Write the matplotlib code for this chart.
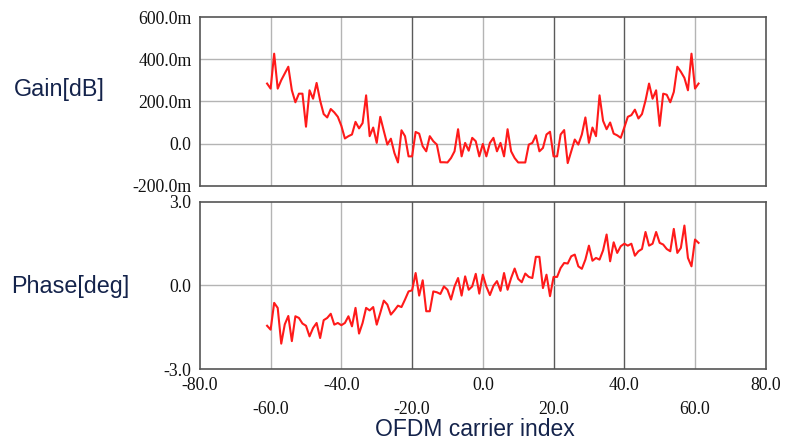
import numpy as np
import matplotlib
matplotlib.use("Agg")
import matplotlib.pyplot as plt

# OFDM carrier index, -61 .. 61
carriers = np.arange(-61, 62)

# gain per carrier, in milli-dB
gain_mdb = [
    285, 261, 427, 261, 301, 333, 365, 253, 196, 237,
    237, 80, 253, 213, 288, 204, 140, 124, 164, 148,
    127, 84, 24, 35, 43, 103, 72, 97, 229, 35,
    76, 3, 127, 60, -5, 23, -45, -90, 63, 35,
    -61, -61, 55, 47, -13, -37, 35, 11, -5, -89,
    -89, -90, -69, -37, 68, -61, 3, -34, 27, 11,
    -61, -2, -61, 3, 27, -37, 3, -61, 68, -37,
    -69, -90, -90, -90, -5, 3, 39, -37, -21, 43,
    56, -61, -61, 43, 64, -93, -37, 19, -5, 43,
    124, 3, 76, 35, 229, 108, 68, 100, 47, 39,
    27, 76, 127, 135, 161, 119, 140, 204, 285, 213,
    253, 84, 237, 232, 196, 245, 365, 341, 312, 253,
    427, 261, 285,
]

# phase per carrier, in degrees
phase_deg = [
    -1.45, -1.59, -0.63, -0.81, -2.09, -1.4, -1.1, -2.0, -1.11, -1.17,
    -1.37, -1.45, -1.83, -1.53, -1.35, -1.89, -1.25, -1.17, -1.02, -1.41,
    -1.35, -1.43, -1.35, -1.11, -1.47, -0.81, -1.73, -1.35, -0.81, -0.9,
    -0.78, -1.41, -0.99, -0.55, -0.69, -1.05, -0.9, -0.73, -0.78, -0.51,
    -0.22, -0.18, 0.44, -0.37, 0.18, -0.93, -0.93, -0.22, -0.25, -0.31,
    -0.04, -0.16, -0.51, -0.04, 0.26, -0.37, 0.32, -0.16, -0.04, 0.41,
    -0.3, 0.38, -0.05, -0.35, -0.02, 0.15, -0.2, 0.44, -0.16, 0.26,
    0.6, 0.23, 0.11, 0.42, 0.3, 0.26, 1.02, 1.02, -0.1, 0.38,
    -0.39, 0.3, 0.3, 0.62, 0.8, 0.78, 1.04, 1.1, 0.68, 0.59,
    0.92, 1.42, 0.88, 0.98, 0.92, 1.25, 1.82, 0.86, 1.54, 1.16,
    1.4, 1.49, 1.42, 1.49, 1.06, 1.22, 1.3, 1.91, 1.42, 1.49,
    1.91, 1.52, 1.46, 1.3, 1.22, 2.02, 1.16, 1.34, 2.14, 0.98,
    0.68, 1.64, 1.52,
]

x_ticks = [-80, -60, -40, -20, 0, 20, 40, 60, 80]
x_labels = ["-80.0", "-60.0", "-40.0", "-20.0", "0.0", "20.0", "40.0", "60.0", "80.0"]
gain_ticks = [-200, 0, 200, 400, 600]
gain_labels = ["-200.0m", "0.0", "200.0m", "400.0m", "600.0m"]
phase_ticks = [-3, 0, 3]
phase_labels = ["-3.0", "0.0", "3.0"]

LINE = "#ff1a1a"
TEXT = "#14234b"
SERIF = ["Liberation Serif", "DejaVu Serif"]
SANS = ["Liberation Sans", "DejaVu Sans"]

fig = plt.figure(figsize=(7.87, 4.43), dpi=100)
ax_g = fig.add_axes([0.254, 0.581, 0.719, 0.380])
ax_p = fig.add_axes([0.254, 0.167, 0.719, 0.378])


def style_axes(ax, yticks, ylabels, ylim):
    ax.set_xlim(-80, 80)
    ax.set_ylim(*ylim)
    # vertical grid, the -20/20/40 lines come out darker
    for xv in [-60, -40, -20, 0, 20, 40, 60]:
        col = "#5a5a5a" if xv in (-20, 20, 40) else "#b4b4b4"
        ax.axvline(xv, color=col, lw=1.0, zorder=1)
    for yv in yticks[1:-1]:
        ax.axhline(yv, color="#b4b4b4", lw=1.0, zorder=1)
    ax.set_yticks(yticks)
    ax.set_yticklabels(ylabels, fontfamily=SERIF, fontsize=12.8, color="#111111")
    ax.tick_params(axis="both", length=0, pad=6)
    for sp in ax.spines.values():
        sp.set_color("#555555")
        sp.set_linewidth(1.2)


style_axes(ax_g, gain_ticks, gain_labels, (-200, 600))
ax_g.plot(carriers, gain_mdb, color=LINE, lw=1.5, zorder=3)
ax_g.set_xticks(x_ticks)
ax_g.set_xticklabels([])

style_axes(ax_p, phase_ticks, phase_labels, (-3, 3))
ax_p.plot(carriers, phase_deg, color=LINE, lw=1.5, zorder=3)
ax_p.set_xticks(x_ticks)
ax_p.set_xticklabels(x_labels, fontfamily=SERIF, fontsize=12.8, color="#111111")
# stagger the x labels in two rows
for i, tk in enumerate(ax_p.xaxis.get_major_ticks()):
    tk.set_pad(6 if i % 2 == 0 else 23)

fig.text(0.076, 0.797, "Gain[dB]", fontfamily=SANS, fontsize=16.8, color=TEXT,
         ha="center", va="center")
fig.text(0.089, 0.353, "Phase[deg]", fontfamily=SANS, fontsize=16.8, color=TEXT,
         ha="center", va="center")
fig.text(0.604, 0.03, "OFDM carrier index", fontfamily=SANS, fontsize=16.5, color=TEXT,
         ha="center", va="center")

fig.savefig("out.png", dpi=100)
